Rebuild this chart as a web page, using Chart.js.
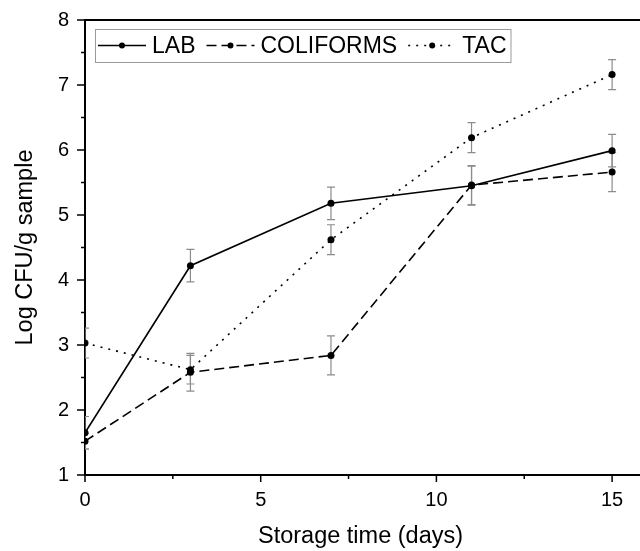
<!DOCTYPE html>
<html lang="en">
<head>
    <meta charset="UTF-8">
    <title>Log CFU/g sample vs storage time</title>
    <script src="https://cdn.jsdelivr.net/npm/chart.js@4.4.1/dist/chart.umd.min.js"></script>
    <style>
        body {
            margin: 0;
            background-color: #ffffff;
        }
        .chart-box {
            width: 640px;
            height: 551px;
            position: relative;
        }
    </style>
</head>
<body>
    <div class="chart-box">
        <canvas id="cfuChart"></canvas>
    </div>

    <script>
        // storage time (days)
        const days = [0, 3, 7, 11, 15];
        const labMean = [1.65, 4.22, 5.18, 5.45, 5.99];
        const labErr = [0.25, 0.25, 0.25, 0.30, 0.25];
        const coliMean = [1.52, 2.58, 2.84, 5.46, 5.66];
        const coliErr = [0.12, 0.29, 0.30, 0.30, 0.30];
        const tacMean = [3.03, 2.62, 4.62, 6.19, 7.16];
        const tacErr = [0.23, 0.22, 0.23, 0.23, 0.23];

        const seriesNames = ['LAB', 'COLIFORMS', 'TAC'];
        const xTicks = [0, 5, 10, 15];
        const xMinorTicks = [2.5, 7.5, 12.5];
        const yTicks = [1, 2, 3, 4, 5, 6, 7, 8];
        const yMinorTicks = [1.5, 2.5, 3.5, 4.5, 5.5, 6.5, 7.5];

        const FONT = '"Liberation Sans", Arial, sans-serif';

        function toPoints(ys) {
            return days.map((d, i) => ({ x: d, y: ys[i] }));
        }

        function makeSet(name, ys, errs, dash) {
            return {
                label: name,
                data: toPoints(ys),
                errors: errs,
                borderColor: '#000000',
                backgroundColor: '#000000',
                borderWidth: 1.6,
                borderDash: dash,
                pointRadius: 3.5,
                pointBorderWidth: 0,
                pointBackgroundColor: '#000000',
                tension: 0
            };
        }

        // error bars, drawn under the lines
        const errorBars = {
            id: 'errorBars',
            beforeDatasetsDraw(chart) {
                const ctx = chart.ctx;
                const xs = chart.scales.x, ys = chart.scales.y;
                const area = chart.chartArea;
                ctx.save();
                ctx.beginPath();
                ctx.rect(area.left, area.top, area.right - area.left, area.bottom - area.top);
                ctx.clip();
                ctx.strokeStyle = '#8c8c8c';
                ctx.lineWidth = 1.2;
                chart.data.datasets.forEach(ds => {
                    ds.data.forEach((p, i) => {
                        const e = ds.errors[i];
                        const px = xs.getPixelForValue(p.x);
                        const top = ys.getPixelForValue(p.y + e);
                        const bot = ys.getPixelForValue(p.y - e);
                        ctx.beginPath();
                        ctx.moveTo(px, top); ctx.lineTo(px, bot);
                        ctx.moveTo(px - 4, top); ctx.lineTo(px + 4, top);
                        ctx.moveTo(px - 4, bot); ctx.lineTo(px + 4, bot);
                        ctx.stroke();
                    });
                });
                ctx.restore();
            }
        };

        // tick marks, frame lines and the inner legend
        const frameAndLegend = {
            id: 'frameAndLegend',
            afterDraw(chart) {
                const ctx = chart.ctx;
                const xs = chart.scales.x, ys = chart.scales.y;
                const area = chart.chartArea;
                ctx.save();
                ctx.strokeStyle = '#000000';
                ctx.lineWidth = 2;
                ctx.beginPath();
                ctx.moveTo(area.left - 1, area.top);
                ctx.lineTo(chart.width, area.top);
                ctx.moveTo(area.left - 1, area.bottom);
                ctx.lineTo(chart.width, area.bottom);
                ctx.stroke();

                ctx.lineWidth = 1.5;
                ctx.beginPath();
                xTicks.forEach(v => {
                    const px = xs.getPixelForValue(v);
                    ctx.moveTo(px, area.bottom); ctx.lineTo(px, area.bottom + 7);
                });
                xMinorTicks.forEach(v => {
                    const px = xs.getPixelForValue(v);
                    ctx.moveTo(px, area.bottom); ctx.lineTo(px, area.bottom + 4);
                });
                yTicks.forEach(v => {
                    const py = ys.getPixelForValue(v);
                    ctx.moveTo(area.left, py); ctx.lineTo(area.left - 8, py);
                });
                yMinorTicks.forEach(v => {
                    const py = ys.getPixelForValue(v);
                    ctx.moveTo(area.left, py); ctx.lineTo(area.left - 4, py);
                });
                ctx.stroke();

                // legend box
                const boxX = 95, boxY = 29, boxH = 33;
                ctx.font = '23px ' + FONT;
                const widths = chart.data.datasets.map(ds => ctx.measureText(ds.label).width);
                const sample = 48, gapText = 6, gapItem = 11;
                let boxW = 3;
                widths.forEach(w => { boxW += sample + gapText + w + gapItem; });
                boxW -= gapItem - 4;
                ctx.fillStyle = '#ffffff';
                ctx.fillRect(boxX, boxY, boxW, boxH);
                ctx.strokeStyle = '#9a9a9a';
                ctx.lineWidth = 1;
                ctx.strokeRect(boxX + 0.5, boxY + 0.5, boxW, boxH);

                const cy = boxY + boxH / 2;
                let cx = boxX + 3;
                chart.data.datasets.forEach((ds, i) => {
                    ctx.strokeStyle = '#000000';
                    ctx.lineWidth = ds.borderWidth;
                    ctx.setLineDash(ds.borderDash || []);
                    ctx.beginPath();
                    ctx.moveTo(cx, cy);
                    ctx.lineTo(cx + sample, cy);
                    ctx.stroke();
                    ctx.setLineDash([]);
                    ctx.fillStyle = '#000000';
                    ctx.beginPath();
                    ctx.arc(cx + sample / 2, cy, 3, 0, Math.PI * 2);
                    ctx.fill();
                    ctx.textBaseline = 'middle';
                    ctx.textAlign = 'left';
                    ctx.fillText(ds.label, cx + sample + gapText, cy + 1);
                    cx += sample + gapText + widths[i] + gapItem;
                });
                ctx.restore();
            }
        };

        new Chart(document.getElementById('cfuChart'), {
            type: 'line',
            data: {
                datasets: [
                    makeSet(seriesNames[0], labMean, labErr, []),
                    makeSet(seriesNames[1], coliMean, coliErr, [10, 5]),
                    makeSet(seriesNames[2], tacMean, tacErr, [2, 6])
                ]
            },
            options: {
                responsive: true,
                maintainAspectRatio: false,
                animation: false,
                layout: { padding: { top: 20, right: 0, left: 0, bottom: 0 } },
                plugins: {
                    legend: { display: false },
                    tooltip: { enabled: false }
                },
                scales: {
                    x: {
                        type: 'linear',
                        min: 0,
                        max: 15.68,
                        afterBuildTicks: scale => { scale.ticks = xTicks.map(v => ({ value: v })); },
                        afterFit: scale => { scale.height = 76; },
                        grid: { display: false, drawTicks: false },
                        border: { display: true, color: '#000000', width: 2 },
                        ticks: {
                            includeBounds: false,
                            padding: 13,
                            color: '#000000',
                            font: { family: FONT, size: 20 },
                            maxRotation: 0
                        },
                        title: {
                            display: true,
                            text: 'Storage time (days)',
                            color: '#000000',
                            font: { family: FONT, size: 23.5 },
                            padding: { top: 0, bottom: 0 }
                        }
                    },
                    y: {
                        min: 1,
                        max: 8,
                        afterBuildTicks: scale => { scale.ticks = yTicks.map(v => ({ value: v })); },
                        afterFit: scale => {
                            scale.width = 85;
                            scale.paddingTop = 0;
                            scale.paddingBottom = 0;
                        },
                        grid: { display: false, drawTicks: false },
                        border: { display: true, color: '#000000', width: 2 },
                        ticks: {
                            padding: 16,
                            color: '#000000',
                            font: { family: FONT, size: 20 }
                        },
                        title: {
                            display: true,
                            text: 'Log CFU/g sample',
                            color: '#000000',
                            font: { family: FONT, size: 23.5 },
                            padding: { top: 11, bottom: 0 }
                        }
                    }
                }
            },
            plugins: [errorBars, frameAndLegend]
        });
    </script>
</body>
</html>
